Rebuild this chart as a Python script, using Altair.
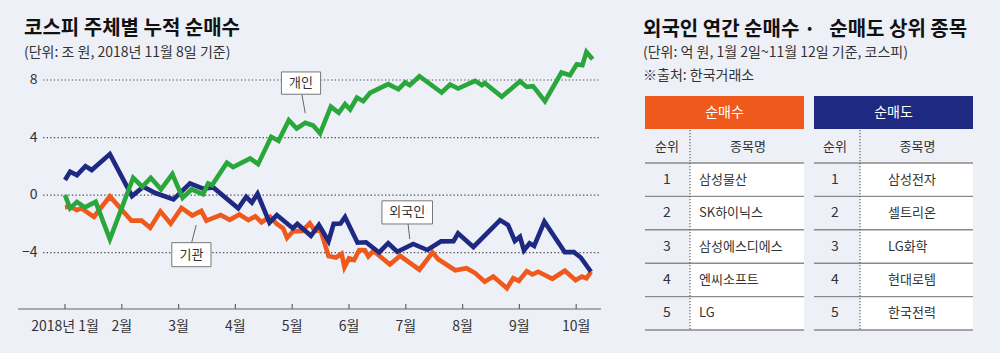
import altair as alt
import pandas as pd

# ---------------- data ----------------
month_ticks = [0, 1, 2, 3, 4, 5, 6, 7, 8, 9]
month_labels = ["2018년 1월", "2월", "3월", "4월", "5월", "6월", "7월", "8월", "9월", "10월"]
y_ticks = [8, 4, 0, -4]
y_labels = ["8", "4", "0", "−4"]

# 개인 (individuals)
ind_m = [0.00, 0.09, 0.21, 0.35, 0.54, 0.79, 1.20, 1.36, 1.51, 1.69, 1.89, 2.07, 2.23, 2.43, 2.52, 2.59,
         2.85, 2.96, 3.26, 3.40, 3.63, 3.76, 3.94, 4.08, 4.23, 4.37, 4.49, 4.68, 4.82, 4.93, 5.02, 5.14,
         5.25, 5.37, 5.69, 5.87, 5.99, 6.07, 6.24, 6.63, 6.78, 6.92, 7.22, 7.34, 7.39, 7.69, 8.01, 8.13,
         8.24, 8.45, 8.74, 8.89, 9.01, 9.11, 9.18, 9.29]
ind_v = [0.00, -0.92, -0.47, -0.85, -0.47, -3.08, 1.20, 0.58, 1.20, 0.40, 1.46, -0.19, 0.40, 0.05, 0.81, 0.69,
         2.24, 1.94, 2.55, 2.15, 4.05, 3.77, 5.21, 4.63, 5.02, 4.83, 4.28, 6.15, 5.72, 6.32, 5.95, 6.78,
         6.53, 7.10, 7.71, 7.36, 7.83, 7.64, 8.26, 7.13, 7.69, 7.41, 7.94, 7.64, 7.80, 6.83, 7.92, 7.52,
         7.57, 6.53, 8.52, 8.33, 9.10, 9.03, 9.95, 9.44]

# 외국인 (foreigners)
for_m = [0.00, 0.09, 0.21, 0.36, 0.47, 0.79, 1.18, 1.38, 1.58, 1.91, 2.20, 2.43, 2.61, 3.05, 3.19, 3.29,
         3.39, 3.60, 3.73, 4.01, 4.09, 4.33, 4.47, 4.64, 4.73, 4.85, 4.93, 5.15, 5.30, 5.53, 5.69, 5.85,
         6.13, 6.38, 6.62, 6.84, 6.92, 7.19, 7.66, 7.80, 7.92, 8.01, 8.08, 8.18, 8.26, 8.44, 8.80, 8.96,
         9.08, 9.26]
for_v = [1.05, 1.62, 1.39, 2.01, 1.74, 2.85, -0.07, 0.58, 0.16, -0.30, 0.81, 0.44, 0.53, -0.92, -0.12, -0.52,
         0.09, -1.92, -1.39, -2.31, -2.01, -2.83, -2.08, -3.21, -2.00, -1.98, -1.53, -3.31, -3.28, -3.99, -3.35, -3.94,
         -3.40, -3.82, -3.22, -3.21, -2.66, -3.61, -1.74, -2.08, -3.19, -2.90, -3.84, -3.35, -3.54, -1.85, -3.97, -3.97,
         -4.34, -5.33]

# 기관 (institutions)
ins_m = [0.00, 0.09, 0.21, 0.29, 0.51, 0.79, 1.17, 1.35, 1.50, 1.68, 1.86, 2.05, 2.24, 2.40, 2.49, 2.74,
         2.90, 3.07, 3.23, 3.35, 3.46, 3.61, 3.73, 3.84, 3.91, 4.02, 4.17, 4.31, 4.40, 4.50, 4.64, 4.77,
         4.87, 4.92, 5.00, 5.09, 5.18, 5.28, 5.34, 5.43, 5.72, 5.90, 6.24, 6.47, 6.57, 6.87, 7.07, 7.22,
         7.39, 7.54, 7.78, 7.89, 7.99, 8.13, 8.23, 8.33, 8.58, 8.80, 8.99, 9.10, 9.18, 9.26]
ins_v = [-0.85, -0.81, -1.04, -0.92, -1.51, -0.09, -1.78, -1.78, -2.28, -1.13, -1.99, -0.89, -1.42, -1.10, -1.78, -1.39,
         -1.72, -1.35, -1.74, -1.48, -1.89, -1.51, -2.01, -2.31, -2.97, -2.50, -2.51, -1.97, -2.50, -2.45, -4.24, -4.34,
         -4.08, -5.01, -4.40, -4.51, -3.82, -3.84, -4.26, -3.88, -4.83, -4.22, -5.19, -3.99, -4.46, -5.23, -5.09, -5.42,
         -6.02, -5.67, -6.48, -5.78, -5.97, -5.29, -5.52, -5.33, -5.82, -5.26, -5.92, -5.67, -5.78, -5.33]

# callouts: label, box x1, x2, y1, y2, text x, y, pointer from (px1,py1) to (px2,py2)
call_labels = ["개인", "기관", "외국인"]
call_x1 = [3.81, 1.88, 5.58]
call_x2 = [4.50, 2.57, 6.47]
call_y1 = [8.56, -3.31, -0.40]
call_y2 = [7.01, -4.98, -2.01]
call_tx = [4.155, 2.225, 6.025]
call_ty = [7.78, -4.15, -1.20]
call_px1 = [4.17, 2.23, 6.04]
call_py1 = [7.01, -3.31, -2.01]
call_px2 = [4.23, 2.31, 6.07]
call_py2 = [5.69, -2.08, -3.06]

ranks = [1, 2, 3, 4, 5]
buy_names = ["삼성물산", "SK하이닉스", "삼성에스디에스", "엔씨소프트", "LG"]
sell_names = ["삼성전자", "셀트리온", "LG화학", "현대로템", "한국전력"]

# ---------------- style ----------------
BG = "#eef0f8"
FONT = "Noto Sans CJK KR"
NUMFONT = "Liberation Sans Narrow, Noto Sans CJK KR"
GREEN = "#2aa73a"
NAVY = "#1e2a82"
ORANGE = "#ef5a1c"

xs = alt.Scale(domain=[0, 9], range=[65, 576.2], nice=False, zero=False)
ys = alt.Scale(domain=[-4, 8], range=[252.6, 80], nice=False, zero=False)
rows = alt.Scale(domain=[0, 5], range=[163, 330], nice=False, zero=False)


def txt(s, x, y, size=13, weight="normal", color="#333", align="left", font=FONT):
    return alt.Chart(pd.DataFrame({"t": [s]})).mark_text(
        font=font, fontSize=size, fontWeight=weight, color=color, align=align, baseline="middle"
    ).encode(text="t:N", x=alt.value(x), y=alt.value(y))


layers = []

# titles
layers.append(txt("코스피 주체별 누적 순매수", 24, 29, size=20, weight="bold", color="#111"))
layers.append(txt("(단위: 조 원, 2018년 11월 8일 기준)", 24, 53, size=14))
layers.append(txt("외국인 연간 순매수 ·\u00a0\u00a0\u00a0순매도 상위 종목", 643, 30, size=20, weight="bold",
                  color="#111"))
layers.append(txt("(단위: 억 원, 1월 2일~11월 12일 기준, 코스피)", 643, 53, size=14))
layers.append(txt("※출처: 한국거래소", 643, 76, size=14))

# grid lines + y labels
ydf = pd.DataFrame({"g": y_ticks, "lab": y_labels})
layers.append(alt.Chart(ydf).mark_rule(color="#555", strokeWidth=1.2, strokeDash=[1.4, 2.2]).encode(
    y=alt.Y("g:Q", scale=ys, axis=None), x=alt.value(43), x2=alt.value(600)))
layers.append(alt.Chart(ydf).mark_text(font=NUMFONT, fontSize=14, color="#333", align="right",
                                       baseline="middle").encode(
    y=alt.Y("g:Q", scale=ys, axis=None), x=alt.value(37.5), text="lab:N"))

# x axis
xdf = pd.DataFrame({"m": month_ticks, "lab": month_labels})
layers.append(alt.Chart(xdf.head(1)).mark_rule(color="#666", strokeWidth=1.2).encode(
    x=alt.value(18), x2=alt.value(601), y=alt.value(309)))
layers.append(alt.Chart(xdf).mark_rule(color="#666", strokeWidth=1.2).encode(
    x=alt.X("m:Q", scale=xs, axis=None), y=alt.value(304), y2=alt.value(309)))
layers.append(alt.Chart(xdf).mark_text(font=NUMFONT, fontSize=14, color="#333", baseline="middle").encode(
    x=alt.X("m:Q", scale=xs, axis=None), y=alt.value(327), text="lab:N"))


def series(ms, vs, color):
    df = pd.DataFrame({"m": ms, "v": vs, "i": list(range(len(ms)))})
    return alt.Chart(df).mark_line(color=color, strokeWidth=4.6).encode(
        x=alt.X("m:Q", scale=xs, axis=None), y=alt.Y("v:Q", scale=ys, axis=None), order="i:Q")


layers.append(series(ins_m, ins_v, ORANGE))
layers.append(series(for_m, for_v, NAVY))
layers.append(series(ind_m, ind_v, GREEN))

# callouts
cdf = pd.DataFrame({"lab": call_labels, "x1": call_x1, "x2": call_x2, "y1": call_y1, "y2": call_y2,
                    "tx": call_tx, "ty": call_ty, "px1": call_px1, "py1": call_py1,
                    "px2": call_px2, "py2": call_py2})
layers.append(alt.Chart(cdf).mark_rule(color="#666", strokeWidth=1).encode(
    x=alt.X("px1:Q", scale=xs, axis=None), x2="px2:Q",
    y=alt.Y("py1:Q", scale=ys, axis=None), y2="py2:Q"))
layers.append(alt.Chart(cdf).mark_rect(fill="white", stroke="#777", strokeWidth=1).encode(
    x=alt.X("x1:Q", scale=xs, axis=None), x2="x2:Q",
    y=alt.Y("y1:Q", scale=ys, axis=None), y2="y2:Q"))
layers.append(alt.Chart(cdf).mark_text(font=FONT, fontSize=13, color="#333", baseline="middle").encode(
    x=alt.X("tx:Q", scale=xs, axis=None), y=alt.Y("ty:Q", scale=ys, axis=None), text="lab:N"))


# tables
def table(x0, x1, sep, rank_x, name_x, header, color, names):
    out = []
    out.append(alt.Chart(pd.DataFrame({"t": [header]})).mark_rect(color=color).encode(
        x=alt.value(x0), x2=alt.value(x1), y=alt.value(96), y2=alt.value(129)))
    out.append(txt(header, (x0 + x1) / 2, 113, size=14, color="white", align="center"))
    out.append(txt("순위", rank_x, 147, size=13, align="center"))
    out.append(txt("종목명", (sep + x1) / 2 + 1, 147, size=13, align="center"))
    df = pd.DataFrame({"rank": ranks, "name": names})
    df["top"] = df["rank"] - 1
    df["mid"] = df["rank"] - 0.5
    out.append(alt.Chart(df).mark_rect(color="white").encode(
        x=alt.value(sep), x2=alt.value(x1),
        y=alt.Y("top:Q", scale=rows, axis=None), y2="rank:Q"))
    bl = pd.DataFrame({"b": [0, 1, 2, 3, 4, 5]})
    out.append(alt.Chart(bl).mark_rule(color="#8a8a8a", strokeWidth=1.4).encode(
        y=alt.Y("b:Q", scale=rows, axis=None), x=alt.value(x0), x2=alt.value(x1)))
    out.append(alt.Chart(df.head(1)).mark_rule(color="#555", strokeWidth=1.1, strokeDash=[1.3, 1.7]).encode(
        x=alt.value(sep), y=alt.value(130), y2=alt.value(330)))
    out.append(alt.Chart(df).mark_text(font=NUMFONT, fontSize=14, color="#333", baseline="middle",
                                       align="center").encode(
        y=alt.Y("mid:Q", scale=rows, axis=None), x=alt.value(rank_x), text="rank:N"))
    out.append(alt.Chart(df).mark_text(font=FONT, fontSize=13, color="#333", baseline="middle",
                                       align="left").encode(
        y=alt.Y("mid:Q", scale=rows, axis=None), x=alt.value(name_x), text="name:N"))
    return out


layers += table(645, 804, 690, 667, 699, "순매수", ORANGE, buy_names)
layers += table(814, 973, 860, 835, 888, "순매도", NAVY, sell_names)

chart = alt.layer(*layers).resolve_scale(x="independent", y="independent").properties(
    width=1000, height=353, padding=0, background=BG,
    autosize=alt.AutoSizeParams(type="none"),
).configure_view(stroke=None)

chart.save("out.html", embed_options={"renderer": "svg", "actions": False})
